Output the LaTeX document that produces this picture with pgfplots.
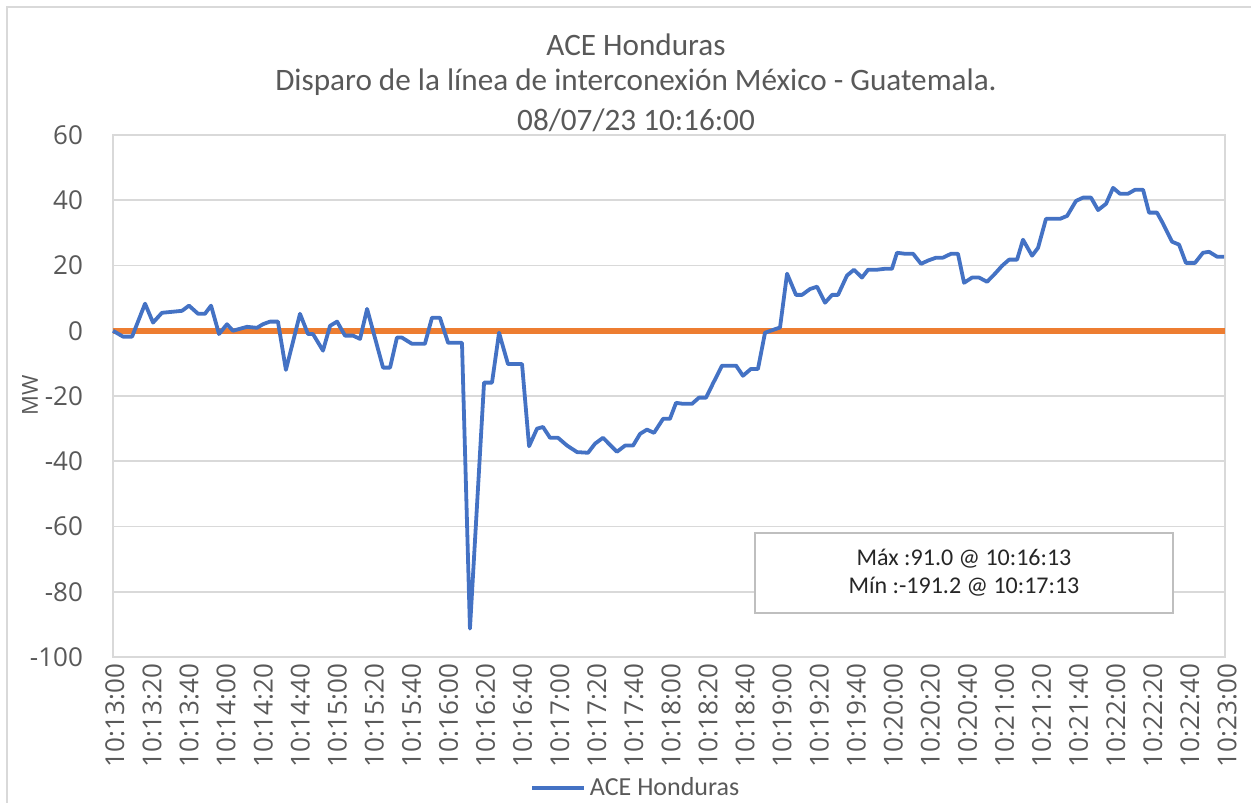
\documentclass[border=0pt]{standalone}
\usepackage{pgfplots}
\pgfplotsset{compat=1.18}
\usepackage{fontspec}
\setmainfont{Carlito}
\newfontfamily\tickfont{Open Sans}
\definecolor{xlblue}{HTML}{4472C4}
\definecolor{xlorange}{HTML}{ED7D31}
\definecolor{xlgrid}{HTML}{D9D9D9}
\definecolor{xlbox}{HTML}{BFBFBF}
\definecolor{xltext}{HTML}{595959}
\begin{document}
\begin{tikzpicture}[x=1pt,y=1pt]
\useasboundingbox (-56.5,-72.5) rectangle (569,328.5);
\draw[xlgrid, line width=1.2pt] (-53,-120) -- (-53,325) -- (700,325);
\begin{axis}[
  at={(0,0)}, anchor=south west,
  scale only axis, width=556pt, height=261pt,
  xmin=0, xmax=600, ymin=-100, ymax=60,
  ytick={-100,-80,...,60},
  xtick={0,20,...,600},
  xticklabels={10:13:00,10:13:20,10:13:40,10:14:00,10:14:20,10:14:40,10:15:00,10:15:20,10:15:40,10:16:00,10:16:20,10:16:40,10:17:00,10:17:20,10:17:40,10:18:00,10:18:20,10:18:40,10:19:00,10:19:20,10:19:40,10:20:00,10:20:20,10:20:40,10:21:00,10:21:20,10:21:40,10:22:00,10:22:20,10:22:40,10:23:00},
  ymajorgrids,
  grid style={xlgrid, line width=0.9pt},
  axis line style={xlgrid, line width=0.9pt},
  tick style={draw=none},
  /pgf/number format/assume math mode=true,
  ticklabel style={text=xltext},
  yticklabel style={font=\tickfont\fontsize{13}{15}\selectfont, anchor=east, xshift=-11.5pt},
  xticklabel style={font=\tickfont\fontsize{13}{15}\selectfont, rotate=90, anchor=east, yshift=-1pt},
  legend style={at={(0.471,-0.251)}, anchor=center, draw=none, fill=none, font=\fontsize{13}{15}\selectfont, text=xltext},
  legend image code/.code={\draw[#1] (0pt,0pt) -- (26pt,0pt);},
  clip=false,
]
\addplot[xlorange, line width=2.8pt, forget plot] coordinates {(0,0) (600,0)};
\addplot[xlblue, line width=1.9pt, line join=round] coordinates {
(0,0) (5.4,-1.8) (10.3,-1.8) (17.3,8.3) (21.6,2.5) (26.4,5.5) (31.8,5.8) (37.2,6.1) (41.0,7.7) (45.9,5.2) (49.6,5.2) (52.9,7.7) (57.2,-1) (61.5,2) (64.7,0) (72.3,1.2) (77.7,0.9) (80.9,2) (84.7,2.8) (89.0,2.8) (93.3,-12) (100.9,5.2) (105.2,-1) (107.9,-1) (113.3,-6.1) (117.1,1.5) (120.9,2.8) (125.2,-1.5) (129.5,-1.5) (133.3,-2.5) (137.1,6.7) (145.7,-11.3) (149.5,-11.3) (153.2,-2.1) (155.9,-2.1) (161.3,-4) (168.3,-4) (172.1,4) (176.4,4) (180.8,-3.7) (188.3,-3.7) (192.6,-91.3) (200.2,-15.9) (204.5,-15.9) (208.3,-0.6) (213.1,-10.2) (220.7,-10.2) (224.5,-35.4) (228.8,-30) (232.0,-29.5) (235.8,-32.8) (240.1,-32.8) (245.0,-35.2) (250.4,-37.2) (256.3,-37.4) (260.1,-34.6) (264.4,-32.8) (268.2,-35) (271.9,-37.1) (276.3,-35.2) (280.6,-35.2) (284.4,-31.6) (288.1,-30.3) (291.9,-31.3) (296.8,-27) (300.5,-27) (303.8,-22.1) (307.6,-22.4) (312.4,-22.4) (316.2,-20.5) (320.0,-20.5) (323.7,-16.2) (328.6,-10.7) (336.2,-10.7) (339.9,-13.8) (344.2,-11.7) (348.0,-11.7) (351.8,-0.6) (359.9,1) (363.7,17.5) (368.5,11) (371.8,11) (376.1,12.8) (379.9,13.5) (384.2,8.6) (388.0,11) (391.2,11) (396.0,16.9) (399.8,18.7) (404.1,16.3) (407.4,18.7) (412.2,18.7) (416.5,19) (420.3,19) (423.0,23.9) (427.3,23.6) (431.7,23.6) (436.0,20.5) (439.7,21.5) (444.1,22.4) (447.8,22.4) (452.2,23.6) (455.9,23.6) (459.2,14.7) (463.5,16.3) (467.3,16.3) (471.6,15) (475.9,17.5) (479.7,19.9) (483.5,21.8) (487.8,21.8) (491.0,27.9) (495.9,23) (499.1,25.4) (503.4,34.3) (511.0,34.3) (514.8,35.2) (519.6,39.8) (523.4,40.8) (527.7,40.8) (531.5,37) (535.8,38.9) (539.6,43.8) (543.3,42) (547.7,42) (551.4,43.2) (555.8,43.2) (559.0,36.2) (563.3,36.2) (566.6,32.8) (571.4,27.3) (575.2,26.4) (578.9,20.8) (583.8,20.8) (588.1,23.9) (591.4,24.2) (595.7,22.7) (599.5,22.7)
};
\addlegendentry{ACE Honduras}
\end{axis}
\node[text=xltext, font=\fontsize{15.6}{18}\selectfont] at (261.5,306) {ACE Honduras};
\node[text=xltext, font=\fontsize{15.6}{18}\selectfont] at (261.5,287.5) {Disparo de la línea de interconexión México - Guatemala.};
\node[text=xltext, font=\fontsize{15.6}{18}\selectfont] at (261.5,268.5) {08/07/23 10:16:00};
\node[text=xltext, font=\tickfont\fontsize{11}{13}\selectfont, rotate=90] at (-41.5,131) {MW};
\node[draw=xlbox, line width=0.8pt, fill=white, minimum width=209pt, minimum height=40pt, align=center, font=\fontsize{12}{14}\selectfont, text=black!85] at (425.5,42) {Máx :91.0 @ 10:16:13\\Mín :-191.2 @ 10:17:13};
\end{tikzpicture}
\end{document}
